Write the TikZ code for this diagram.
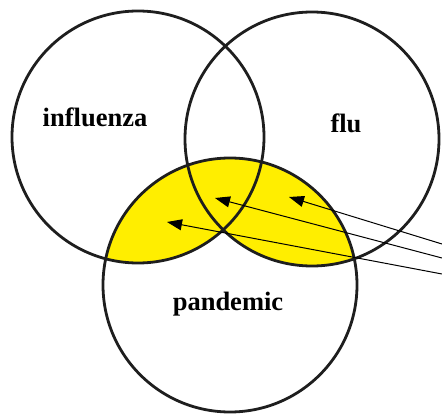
\documentclass[tikz,border=0pt]{standalone}
\usepackage{fontspec}
\setmainfont{Liberation Serif}
\usetikzlibrary{arrows.meta}
\definecolor{overlap}{HTML}{FFEE00}
\definecolor{ring}{HTML}{1E1E1E}

\begin{document}
\begin{tikzpicture}[x=1pt, y=-1pt,
  setring/.style={draw=ring, line width=2.8pt},
  label/.style={font=\fontsize{26.5}{30}\selectfont\bfseries, anchor=base, inner sep=0pt},
  pointer/.style={-{Triangle[length=15pt, width=11pt]}, line width=1pt}
]
  \useasboundingbox (0,0) rectangle (442,414);
  \coordinate (cflu) at (138,137);
  \coordinate (cflu2) at (312,139);
  \coordinate (cpan) at (230,285);

  % shaded overlap with pandemic
  \begin{scope}
    \clip (cpan) circle (127);
    \fill[overlap] (cflu) circle (126);
    \fill[overlap] (cflu2) circle (127);
  \end{scope}

  \draw[setring] (cflu) circle (126);
  \draw[setring] (cflu2) circle (127);
  \draw[setring] (cpan) circle (127);

  \node[label] (influenza) at (95,127) {influenza};
  \node[label] (flu) at (346,133) {flu};
  \node[label] (pandemic) at (228,310) {pandemic};

  \coordinate (s1) at (442,244);
  \coordinate (s2) at (442,258);
  \coordinate (s3) at (442,274);
  \coordinate (t1) at (289,197);
  \coordinate (t2) at (215,198);
  \coordinate (t3) at (167,222);
  \draw[pointer] (s1) -- (t1);
  \draw[pointer] (s2) -- (t2);
  \draw[pointer] (s3) -- (t3);
\end{tikzpicture}
\end{document}
